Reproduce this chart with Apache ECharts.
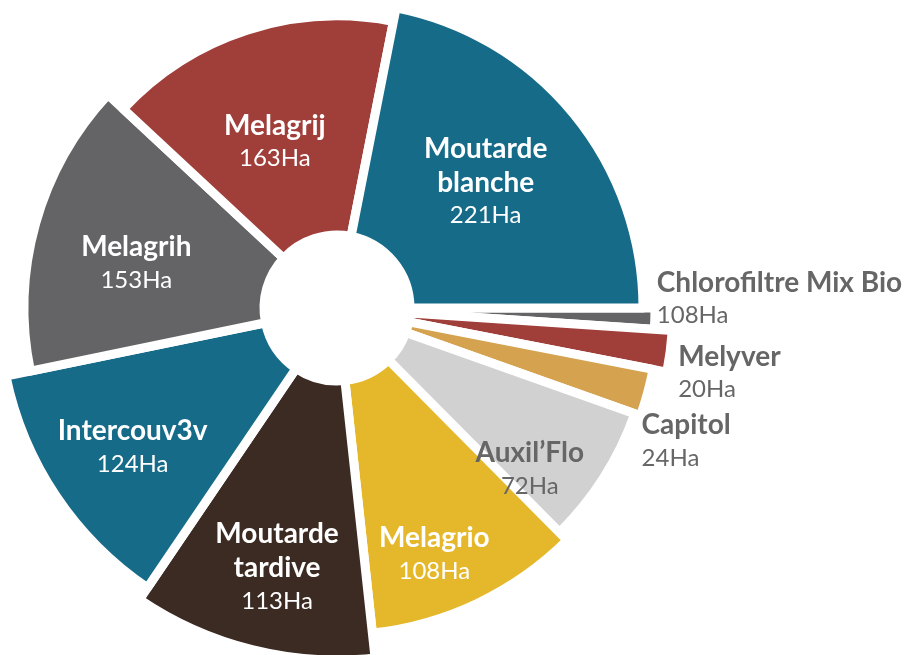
<!DOCTYPE html>
<html>
<head>
<meta charset="utf-8">
<script src="https://cdn.jsdelivr.net/npm/echarts@6/dist/echarts.min.js"></script>
<style>
  html, body { margin: 0; padding: 0; background: #fff; }
  #chart { width: 922px; height: 655px; }
</style>
</head>
<body>
<div id="chart"></div>
<script>
// slices, clockwise from 3 o'clock
const names = ['Chlorofiltre Mix Bio', 'Melyver', 'Capitol', 'Auxil’Flo', 'Melagrio',
  'Moutarde\ntardive', 'Intercouv3v', 'Melagrih', 'Melagrij', 'Moutarde\nblanche'];
// surfaces as printed on the chart
const shownHa = [108, 20, 24, 72, 108, 113, 124, 153, 163, 221];
// surfaces used for the slice angles (Chlorofiltre is drawn as 10,8 ha)
const hectares = [10.8, 20, 24, 72, 108, 113, 124, 153, 163, 221];

const colors = ['#646466', '#A03E3A', '#D5A250', '#D0D1D0', '#E5B82C',
  '#3B2B22', '#166B89', '#646466', '#A03E3A', '#166B89'];
// outer radius of each slice, px
const outerRadius = [318, 336, 322, 316, 327, 352, 338, 313, 292, 306];
const outside = [true, true, true, false, false, false, false, false, false, false];
// label nudges
const labelShift = [[-4, -20], [2, 21], [-12, 48], [26, 55], [10, 63],
  [-8, 50], [-31, 23], [-12, 8], [-5, 10], [0, -4]];

const chart = echarts.init(document.getElementById('chart'));

const series = names.map((nm, i) => ({
  type: 'pie',
  center: [337, 308],
  radius: [73, outerRadius[i]],
  startAngle: 0,
  clockwise: true,
  silent: true,
  animation: false,
  avoidLabelOverlap: false,
  right: -200,
  data: names.map((m, j) => ({
    name: m,
    value: hectares[j],
    itemStyle: j === i
      ? { color: colors[j], borderColor: '#fff', borderWidth: 9 }
      : { color: 'rgba(0,0,0,0)', borderWidth: 0 },
    label: { show: j === i },
  })),
  label: {
    position: outside[i] ? 'outside' : 'inside',
    bleedMargin: 0,
    formatter: (p) => '{n|' + p.name + '}\n{v|' + shownHa[p.dataIndex] + 'Ha}',
    align: outside[i] ? 'left' : 'center',
    rich: {
      n: {
        fontFamily: 'Lato', fontWeight: 'bold', fontSize: 28, lineHeight: 34,
        color: outside[i] || i === 3 ? '#666666' : '#ffffff',
        align: outside[i] ? 'left' : 'center',
      },
      v: {
        fontFamily: 'Lato', fontSize: 24, lineHeight: 32,
        color: outside[i] || i === 3 ? '#666666' : '#ffffff',
        align: outside[i] ? 'left' : 'center',
      },
    },
  },
  labelLine: { show: false, length: 1, length2: 0 },
  labelLayout: { dx: labelShift[i][0], dy: labelShift[i][1] },
}));

chart.setOption({ series: series });
</script>
</body>
</html>
